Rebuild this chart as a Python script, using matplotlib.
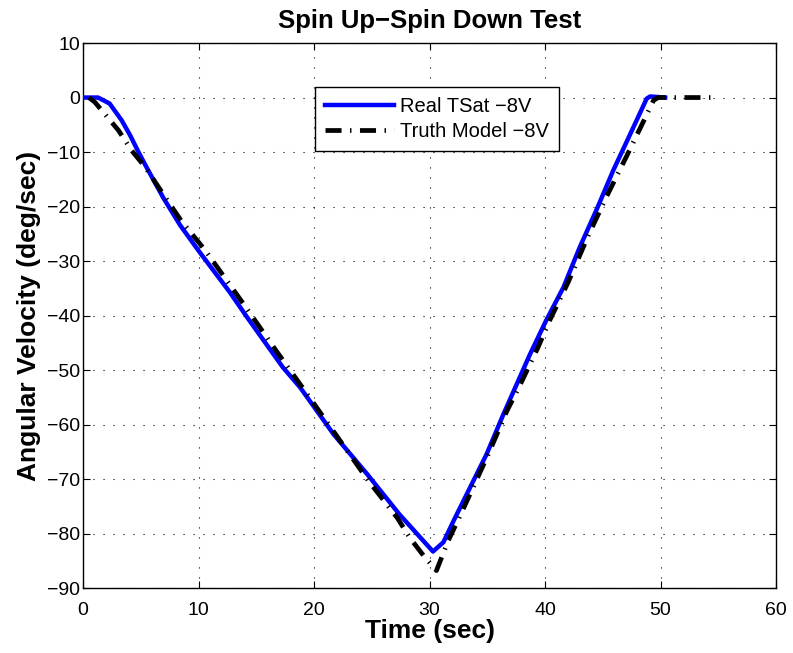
import numpy as np
import matplotlib
matplotlib.use("Agg")
import matplotlib.pyplot as plt

# Real TSat -8V
t_real = [0, 1.3, 2.3, 3.35, 4.07, 4.8, 5.5, 6.95, 8.4, 10.0, 12.7, 14.2, 17.3, 18.8,
          21.7, 24.6, 27.4, 30.3, 31.2, 32.1, 33.5, 34.95, 36.4, 37.8, 38.7, 40.1,
          41.6, 43.0, 44.5, 45.9, 47.4, 48.8, 49.1, 50.4]
w_real = [0, 0, -1.1, -4.2, -6.9, -10.0, -12.8, -18.4, -23.4, -28.1, -35.7, -40.3, -49.5, -53.2,
          -61.8, -69.1, -76.5, -83.3, -81.6, -77.6, -71.6, -65.4, -58.1, -51.4, -47.1, -40.9,
          -34.8, -27.5, -20.4, -13.4, -6.6, -0.2, 0.2, 0]

# Truth Model -8V
t_model = [0.5, 1.0, 1.6, 3.06, 4.2, 5.4, 7.4, 8.5, 10.6, 13.9, 16.6, 19.8,
           24.7, 27.2, 28.3, 29.5, 30.6, 31.6, 32.5, 33.5, 35.1, 36.7, 37.8,
           39.4, 40.4, 42.0, 43.75, 45.3, 47.1, 48.7, 49.4, 49.8, 54.8]
w_model = [0, -0.8, -2.3, -6.0, -9.7, -12.8, -19.2, -22.6, -28.1, -37.9, -46.1, -55.6,
           -70.3, -77.1, -80.8, -84.1, -86.8, -81.4, -77.4, -72.8, -65.4, -57.5, -52.9,
           -45.8, -40.9, -33.9, -25.3, -18.3, -10.6, -3.6, -0.5, 0, 0]

xticks = np.arange(0, 61, 10)
yticks = np.arange(-90, 11, 10)

plt.rcParams['font.family'] = ['Liberation Sans', 'DejaVu Sans']

fig = plt.figure(figsize=(7.93, 6.53), dpi=100)
ax = fig.add_axes([0.1047, 0.0995, 0.8739, 0.8346])

ax.plot(t_real, w_real, color=(0, 0, 1), lw=3.2, label='Real TSat \u22128V', zorder=3)
ax.plot(t_model, w_model, color='k', lw=3.4, linestyle=(0, (3.4, 1.8, 0.3, 1.8)),
        dash_capstyle='butt', label='Truth Model \u22128V', zorder=4)

ax.set_xlim(0, 60)
ax.set_ylim(-90, 10)
ax.set_xticks(xticks)
ax.set_yticks(yticks)
ax.set_yticklabels([str(v).replace('-', '\u2212') for v in yticks])

ax.grid(True, color='k', linestyle=(0, (1, 8)), linewidth=0.8)
ax.tick_params(direction='in', top=True, right=True, length=5, width=0.8,
               labelsize=14)
ax.tick_params(axis='x', pad=10)
ax.tick_params(axis='y', pad=2)
for s in ax.spines.values():
    s.set_linewidth(1.0)

ax.set_title('Spin Up\u2212Spin Down Test', fontsize=18.5, fontweight='bold', y=1.027, pad=0)
ax.set_xlabel('Time (sec)', fontsize=19, fontweight='bold')
ax.set_ylabel('Angular Velocity (deg/sec)', fontsize=19, fontweight='bold')
ax.xaxis.set_label_coords(0.5, -0.056)
ax.yaxis.set_label_coords(-0.06, 0.5)

leg = ax.legend(loc='upper left', bbox_to_anchor=(0.3348, 0.919), fontsize=14.5,
                handlelength=3.4, handletextpad=0.3, borderpad=0.5,
                labelspacing=0.3, fancybox=False, framealpha=1, borderaxespad=0)
leg.get_frame().set_edgecolor('k')
leg.get_frame().set_linewidth(1.0)

fig.savefig('out.png', dpi=100)
